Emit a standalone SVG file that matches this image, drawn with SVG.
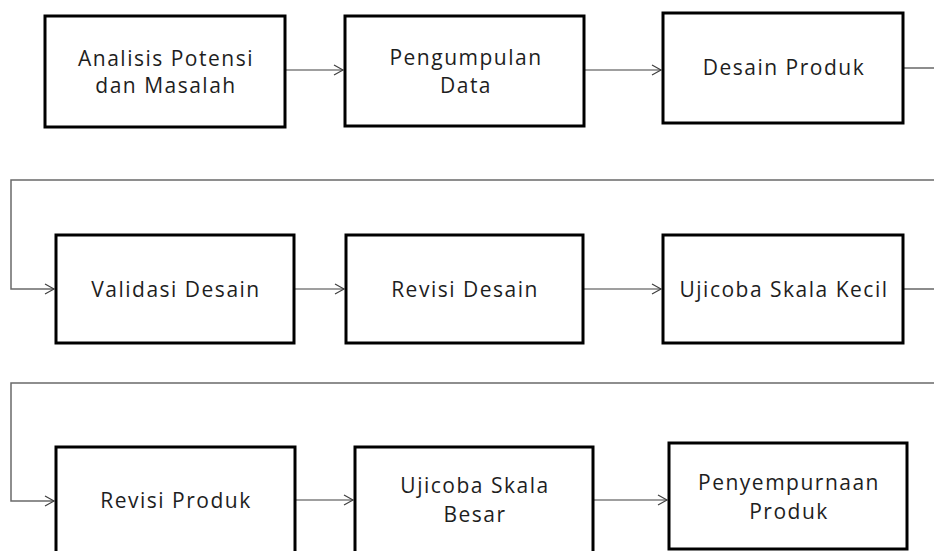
<svg xmlns="http://www.w3.org/2000/svg" width="934" height="551" viewBox="0 0 934 551">
<defs>
<marker id="arr" markerUnits="userSpaceOnUse" markerWidth="12" markerHeight="12" refX="10" refY="6" orient="auto">
<path d="M1,1 L10,6 L1,11" fill="none" stroke="#404040" stroke-width="1.2"/>
</marker>
<style>
.box{fill:#fff;stroke:#000;stroke-width:3}
.lbl{font-family:"Open Sans","Noto Sans",sans-serif;font-size:21px;letter-spacing:1.5px;fill:#1e1e1e;text-anchor:middle}
.con{fill:none;stroke:#404040;stroke-width:1.2}
.wrap{fill:none;stroke:#6a6a6a;stroke-width:1.5}
</style>
</defs>
<rect width="934" height="551" fill="#fff"/>
<g id="connectors">
<path class="con" d="M285,70 H343" marker-end="url(#arr)"/>
<path class="con" d="M584,70 H661" marker-end="url(#arr)"/>
<path class="con" d="M903,68 H934"/>
<path class="wrap" d="M934,180 H11 V289 H54" marker-end="url(#arr)"/>
<path class="con" d="M294,289 H344" marker-end="url(#arr)"/>
<path class="con" d="M583,289 H661" marker-end="url(#arr)"/>
<path class="con" d="M903,289 H934"/>
<path class="wrap" d="M934,383 H11 V501 H54" marker-end="url(#arr)"/>
<path class="con" d="M295,500 H353" marker-end="url(#arr)"/>
<path class="con" d="M593,500 H667" marker-end="url(#arr)"/>
</g>
<g id="n1"><rect class="box" x="45" y="16" width="240" height="111"/>
<text class="lbl" x="166" y="66">Analisis Potensi</text><text class="lbl" x="166" y="93">dan Masalah</text></g>
<g id="n2"><rect class="box" x="345" y="16" width="239" height="110"/>
<text class="lbl" x="466" y="65">Pengumpulan</text><text class="lbl" x="466" y="93">Data</text></g>
<g id="n3"><rect class="box" x="663" y="13" width="240" height="110"/>
<text class="lbl" x="784" y="75">Desain Produk</text></g>
<g id="n4"><rect class="box" x="56" y="235" width="238" height="108"/>
<text class="lbl" x="176" y="297">Validasi Desain</text></g>
<g id="n5"><rect class="box" x="346" y="235" width="237" height="108"/>
<text class="lbl" x="465" y="297">Revisi Desain</text></g>
<g id="n6"><rect class="box" x="663" y="235" width="240" height="108"/>
<text class="lbl" x="784" y="297">Ujicoba Skala Kecil</text></g>
<g id="n7"><rect class="box" x="56" y="447" width="239" height="120"/>
<text class="lbl" x="176" y="508">Revisi Produk</text></g>
<g id="n8"><rect class="box" x="355" y="447" width="238" height="120"/>
<text class="lbl" x="475" y="493">Ujicoba Skala</text><text class="lbl" x="475" y="522">Besar</text></g>
<g id="n9"><rect class="box" x="669" y="443" width="238" height="106"/>
<text class="lbl" x="789" y="490">Penyempurnaan</text><text class="lbl" x="789" y="519">Produk</text></g>
</svg>
